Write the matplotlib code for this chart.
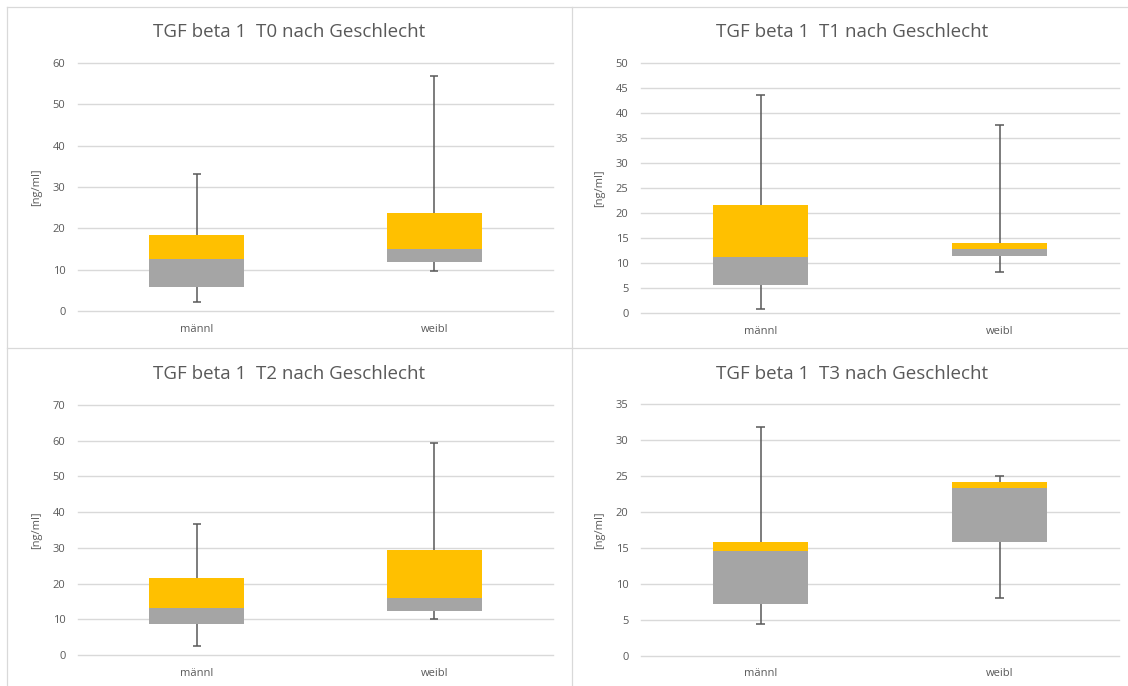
import numpy as np
import matplotlib.pyplot as plt
from matplotlib.lines import Line2D

plt.rcParams['font.family'] = ['Open Sans', 'DejaVu Sans']

# Data (Excel box plot built from stacked bars)
categories = ['männl', 'weibl']
titles = ['TGF beta 1  T0 nach Geschlecht', 'TGF beta 1  T1 nach Geschlecht',
          'TGF beta 1  T2 nach Geschlecht', 'TGF beta 1  T3 nach Geschlecht']
y_max = [60, 50, 70, 35]
y_step = [10, 5, 10, 5]

whisker_low = [[2.1, 9.7], [0.8, 8.2], [2.4, 10.0], [4.4, 8.1]]
quart_1 = [[5.8, 11.9], [5.6, 11.5], [8.7, 12.3], [7.2, 15.9]]
median = [[12.6, 15.0], [11.2, 12.9], [13.3, 16.1], [14.6, 23.4]]
quart_3 = [[18.4, 23.6], [21.6, 14.0], [21.7, 29.3], [15.9, 24.2]]
whisker_high = [[33.1, 56.9], [43.7, 37.7], [36.7, 59.5], [31.8, 25.0]]

W, H = 1128, 686
fig = plt.figure(figsize=(W / 100, H / 100), dpi=100)

# axes boxes in pixels: left, top, right, bottom
boxes = [(78, 63, 553, 311), (641, 63, 1119, 313),
         (78, 405, 553, 655), (641, 404, 1119, 656)]
title_pos = [(289, 32), (852, 32), (289, 374), (852, 374)]

text_col = '#595959'
grid_col = '#D9D9D9'

for i in range(4):
    l, t, r, b = boxes[i]
    ax = fig.add_axes([l / W, 1 - b / H, (r - l) / W, (b - t) / H])
    x = np.arange(len(categories))
    q1 = np.array(quart_1[i])
    med = np.array(median[i])
    q3 = np.array(quart_3[i])
    lo = np.array(whisker_low[i])
    hi = np.array(whisker_high[i])

    ax.bar(x, med - q1, bottom=q1, width=0.4, color='#A5A5A5', zorder=2)
    ax.bar(x, q3 - med, bottom=med, width=0.4, color='#FFC000', zorder=2)

    cap = 0.017
    ax.vlines(x, q3, hi, color=text_col, lw=1.1, zorder=3)
    ax.vlines(x, lo, q1, color=text_col, lw=1.1, zorder=3)
    ax.hlines(hi, x - cap, x + cap, color=text_col, lw=1.1, zorder=3)
    ax.hlines(lo, x - cap, x + cap, color=text_col, lw=1.1, zorder=3)

    ax.set_xlim(-0.5, 1.5)
    ax.set_ylim(0, y_max[i])
    ax.set_yticks(np.arange(0, y_max[i] + 0.1, y_step[i]))
    ax.set_xticks(x)
    ax.set_xticklabels(categories)
    ax.grid(axis='y', color=grid_col, lw=1)
    for gl in ax.get_ygridlines():
        gl.set_clip_on(False)
    ax.set_axisbelow(True)
    for s in ax.spines.values():
        s.set_visible(False)
    ax.tick_params(length=0, colors=text_col, labelsize=8)
    ax.tick_params(axis='y', pad=9)
    ax.tick_params(axis='x', pad=9)
    ax.text(-41 / (r - l), 0.5, '[ng/ml]', transform=ax.transAxes,
            rotation=90, ha='center', va='center', color=text_col, fontsize=8)

    fig.text(title_pos[i][0] / W, 1 - title_pos[i][1] / H, titles[i],
             ha='center', va='center', color=text_col, fontsize=13.5)

# panel borders
border = dict(color=grid_col, lw=0.9, transform=fig.transFigure)
fig.add_artist(Line2D([7 / W, 1], [1 - 7 / H, 1 - 7 / H], **border))
fig.add_artist(Line2D([7 / W, 7 / W], [0, 1 - 7 / H], **border))
fig.add_artist(Line2D([572 / W, 572 / W], [0, 1 - 7 / H], **border))
fig.add_artist(Line2D([7 / W, 1], [1 - 348 / H, 1 - 348 / H], **border))

fig.savefig('out.png', dpi=100)
